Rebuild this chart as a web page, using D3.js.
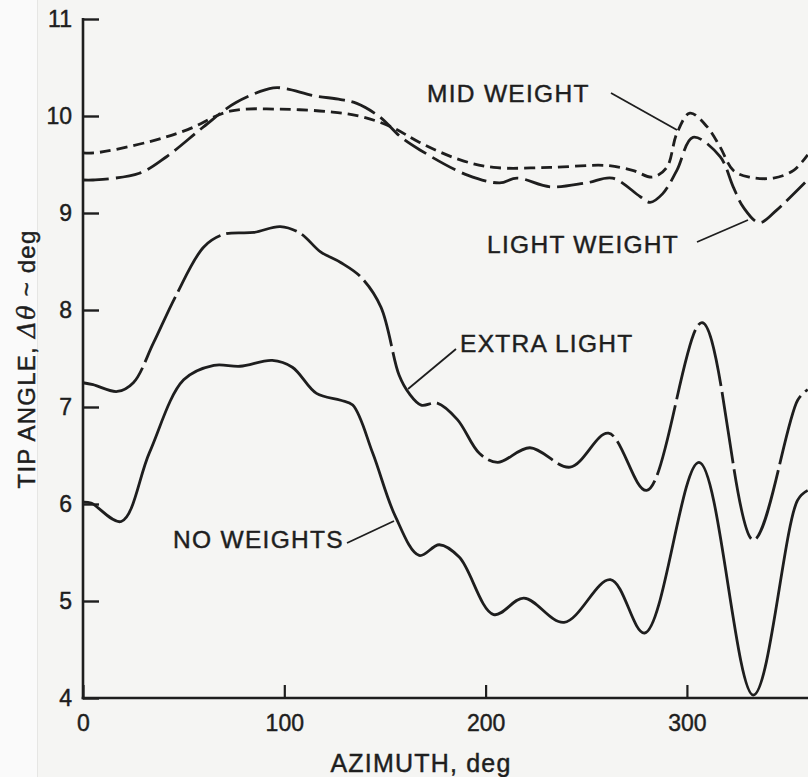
<!DOCTYPE html>
<html>
<head>
<meta charset="utf-8">
<script src="https://cdn.jsdelivr.net/npm/d3@7"></script>
<style>
  html, body { margin: 0; padding: 0; background: #f5f5f3; }
  svg { display: block; }
  text { font-family: "Liberation Sans", Arial, Helvetica, sans-serif; fill: #1e1e1e; stroke: #1e1e1e; stroke-width: 0.45px; }
</style>
</head>
<body>
<svg id="chart" width="808" height="777"></svg>
<script>
// ---- data (azimuth deg, tip angle deg) ----
const noWeights = [[0,6.02],[4,6.01],[19,5.82],[33,6.53],[50,7.28],[65,7.43],[78,7.42],[94,7.48],[104,7.41],[116,7.14],[128,7.07],[134,7.02],[144,6.52],[155,5.88],[167,5.47],[177,5.58],[187,5.45],[204,4.86],[219,5.03],[239,4.78],[262,5.22],[279,4.67],[306,6.43],[333,4.03],[355,6.04],[360,6.14]];
const extraLight = [[0,7.25],[5,7.23],[17,7.16],[25,7.25],[35,7.66],[46,8.14],[60,8.65],[70,8.78],[85,8.80],[98,8.86],[108,8.79],[118,8.60],[128,8.49],[138,8.34],[148,8.03],[157,7.33],[162,7.14],[168,7.02],[176,7.04],[186,6.87],[197,6.52],[206,6.43],[222,6.58],[242,6.38],[261,6.73],[280,6.14],[307.5,7.87],[333,5.63],[355,7.07],[360,7.18]];
const lightWeight = [[0,9.34],[5,9.34],[28,9.41],[41.5,9.58],[60,9.89],[76,10.14],[94.5,10.29],[101,10.28],[114.5,10.21],[128,10.17],[136,10.13],[147.5,9.99],[157.5,9.79],[167.4,9.65],[191,9.39],[207,9.31],[215.6,9.36],[232,9.27],[250,9.31],[263,9.36],[276.7,9.17],[281.7,9.11],[288,9.2],[295,9.44],[303,9.78],[316.5,9.58],[323,9.27],[328,9.06],[336,8.90],[344.6,9.03],[349.7,9.13],[360,9.34]];
const midWeight = [[0,9.62],[6,9.62],[32,9.73],[52,9.86],[73,10.05],[98,10.07],[124,10.04],[139,9.99],[154,9.88],[167,9.73],[187,9.55],[204,9.47],[232,9.47],[260,9.49],[273,9.44],[283,9.37],[290,9.47],[295,9.82],[301.5,10.03],[310,9.89],[316.5,9.68],[323,9.44],[331,9.37],[343,9.36],[353,9.44],[360,9.6]];
const xTicks = [0, 100, 200, 300];
const yTicks = [4, 5, 6, 7, 8, 9, 10, 11];
const seriesLabels = ["MID WEIGHT", "LIGHT WEIGHT", "EXTRA LIGHT", "NO WEIGHTS"];
const xTitle = "AZIMUTH, deg";

// ---- layout ----
const svg = d3.select("#chart");
const W = 808, H = 777;
const x = d3.scaleLinear().domain([0, 360]).range([83, 807.7]);
const y = d3.scaleLinear().domain([4, 11]).range([698, 19]);
const ink = "#1e1e1e";

// paper strip at left
svg.append("rect").attr("x", 0).attr("y", 0).attr("width", 37).attr("height", H).attr("fill", "#fafafa");
svg.append("line").attr("x1", 37.5).attr("x2", 37.5).attr("y1", 0).attr("y2", H).attr("stroke", "#e6e6e4").attr("stroke-width", 1);

// axes
const yAxis = d3.axisLeft(y).tickValues(yTicks).tickSize(-16).tickPadding(27).tickFormat(d3.format("d"));
const gy = svg.append("g").attr("transform", `translate(${x(0)},0)`).call(yAxis);
gy.select(".domain").remove();
gy.selectAll(".tick line").attr("stroke", ink).attr("stroke-width", 2.4);
gy.selectAll(".tick text").attr("font-size", 23).attr("fill", ink).attr("x", -11).attr("dy", "0.34em");
svg.append("line").attr("x1", x(0)).attr("x2", x(0)).attr("y1", y(11) - 1).attr("y2", y(4) + 1.2)
  .attr("stroke", ink).attr("stroke-width", 2.6);

const xAxis = d3.axisBottom(x).tickValues(xTicks).tickSize(-13).tickPadding(20).tickFormat(d3.format("d"));
const gx = svg.append("g").attr("transform", `translate(0,${y(4)})`).call(xAxis);
gx.select(".domain").remove();
gx.selectAll(".tick line").attr("stroke", ink).attr("stroke-width", 2.2);
gx.selectAll(".tick text").attr("font-size", 23).attr("fill", ink).attr("y", 17);
svg.append("line").attr("x1", x(0) - 1.3).attr("x2", W).attr("y1", y(4)).attr("y2", y(4))
  .attr("stroke", ink).attr("stroke-width", 2.4);

// axis titles
svg.append("text").attr("x", 421).attr("y", 772).attr("text-anchor", "middle")
  .attr("font-size", 25).attr("letter-spacing", 1.2).text(xTitle);

const yt = svg.append("text").attr("transform", "translate(35,359) rotate(-90)")
  .attr("text-anchor", "middle").attr("font-size", 24).attr("letter-spacing", 1.2);
yt.append("tspan").text("TIP ANGLE, ");
yt.append("tspan").attr("font-family", "'DejaVu Serif', serif").attr("font-style", "italic").text("Δθ");
yt.append("tspan").text(" ~ deg");

// curves
const line = d3.line().x(d => x(d[0])).y(d => y(d[1])).curve(d3.curveCatmullRom.alpha(0.5));
const series = [
  { data: midWeight, dash: "11,6" },
  { data: lightWeight, dash: "26,7" },
  { data: extraLight, dash: "72,6" },
  { data: noWeights, dash: null }
];
series.forEach(s => {
  svg.append("path").datum(s.data).attr("d", line)
    .attr("fill", "none").attr("stroke", ink).attr("stroke-width", 2.8)
    .attr("stroke-linecap", "butt").attr("stroke-linejoin", "round")
    .attr("stroke-dasharray", s.dash);
});

// labels with leader lines
const labels = [
  { text: seriesLabels[0], tx: 427, ty: 102, l: [[611, 93], [677, 130]] },
  { text: seriesLabels[1], tx: 487, ty: 253, l: [[697, 242], [748, 220]] },
  { text: seriesLabels[2], tx: 460, ty: 352, l: [[456, 349], [408, 389]] },
  { text: seriesLabels[3], tx: 173, ty: 548, l: [[347, 543], [394, 521]] }
];
labels.forEach(L => {
  svg.append("text").attr("x", L.tx).attr("y", L.ty).attr("font-size", 24.5)
    .attr("letter-spacing", 1.3).text(L.text);
  svg.append("line").attr("x1", L.l[0][0]).attr("y1", L.l[0][1]).attr("x2", L.l[1][0]).attr("y2", L.l[1][1])
    .attr("stroke", ink).attr("stroke-width", 1.8);
});
</script>
</body>
</html>
